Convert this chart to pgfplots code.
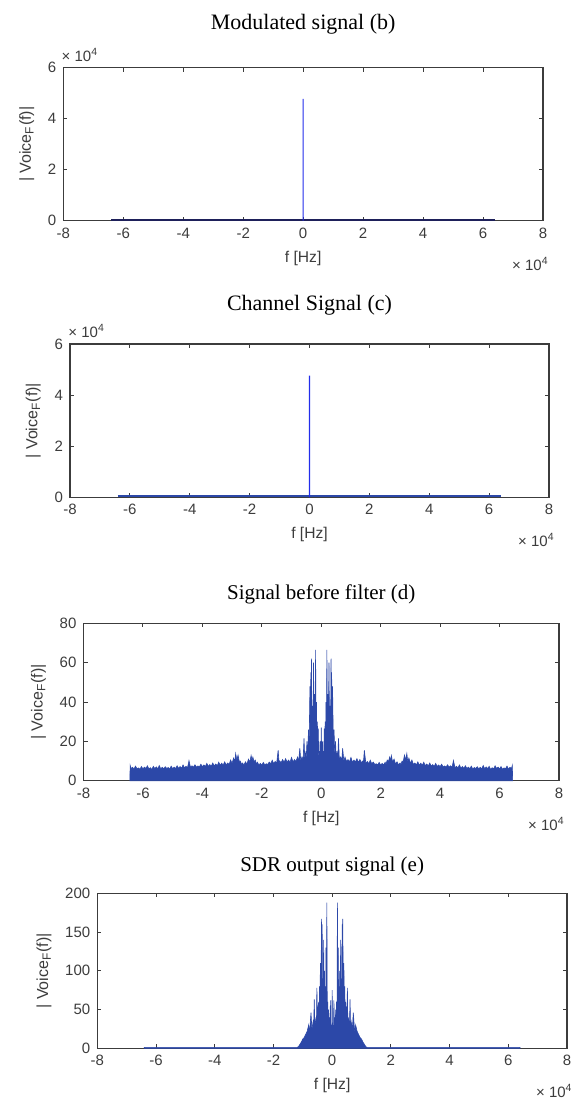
\documentclass[border=0pt]{standalone}
\usepackage{pgfplots}
\pgfplotsset{compat=1.18}
\usepackage{fontspec}
\setmainfont{Liberation Sans}
\newfontfamily\titlefont{Liberation Serif}

\definecolor{spec}{RGB}{44,72,168}
\definecolor{spike}{RGB}{35,45,235}
\definecolor{navy}{RGB}{30,32,90}
\definecolor{axgray}{RGB}{60,60,60}

% MATLAB-like look shared by the four panels
\pgfplotsset{
  matlab/.style={
    scale only axis, anchor=south west, clip=false,
    xmin=-80000, xmax=80000, scaled ticks=false,
    xtick={-80000,-60000,...,80000},
    xticklabels={-8,-6,-4,-2,0,2,4,6,8},
    tick align=inside, xtick pos=both, ytick pos=both,
    major tick length=2pt,
    axis line style={axgray, line width=0.6pt},
    every tick/.style={axgray, line width=0.5pt},
    tick label style={font=\fontsize{7.5}{8}\selectfont, text=axgray},
    /pgf/number format/assume math mode=true,
    xlabel={f [Hz]},
    ylabel={| Voice\textsubscript{F}(f)|},
    every axis x label/.style={at={(0.5,0)}, anchor=north, yshift=-11.5pt,
      font=\fontsize{7.8}{9}\selectfont, text=axgray},
    every axis y label/.style={at={(ticklabel cs:0.5)}, rotate=90,
      anchor=near ticklabel, font=\fontsize{8}{9}\selectfont, text=axgray},
    every axis title/.style={at={(0.5,1)}, anchor=base,
      font=\titlefont\fontsize{11}{13}\selectfont},
  },
}
\tikzset{
  xmult/.style={anchor=north east, inner sep=0pt, text=axgray,
    font=\fontsize{7.5}{8}\selectfont},
  ymult/.style={anchor=south west, inner sep=0pt, text=axgray,
    font=\fontsize{7.5}{8}\selectfont},
}

\begin{document}
\begin{tikzpicture}
\useasboundingbox (0,0) rectangle (285.5pt,-550.5pt);

% (b) modulated signal
\begin{axis}[matlab, at={(31.65pt,-110.35pt)}, width=239.85pt, height=76.5pt,
  ymin=0, ymax=60000, ytick={0,20000,40000,60000}, yticklabels={0,2,4,6},
  title={Modulated signal (b)}, title style={yshift=18.9pt}]
\addplot[draw=navy, line width=0.8pt] coordinates {(-64000,250) (64000,250)};
\addplot[fill=spike, draw=none] coordinates
  {(-170,0) (-170,47800) (170,47800) (170,0)} \closedcycle;
\node[ymult] at (rel axis cs:0,1) [xshift=-1pt, yshift=3pt] {× 10\textsuperscript{4}};
\node[xmult] at (rel axis cs:1,0) [xshift=3pt, yshift=-18pt] {× 10\textsuperscript{4}};
\end{axis}

% (c) channel signal
\begin{axis}[matlab, at={(35pt,-248.65pt)}, width=239.5pt, height=76.65pt,
  ymin=0, ymax=60000, ytick={0,20000,40000,60000}, yticklabels={0,2,4,6},
  title={Channel Signal (c)}, title style={yshift=17pt}]
\addplot[draw=spec, line width=0.8pt] coordinates {(-64000,500) (64000,500)};
\addplot[fill=spike, draw=none] coordinates
  {(-170,0) (-170,47600) (170,47600) (170,0)} \closedcycle;
\node[ymult] at (rel axis cs:0,1) [xshift=-1pt, yshift=3pt] {× 10\textsuperscript{4}};
\node[xmult] at (rel axis cs:1,0) [xshift=3pt, yshift=-18pt] {× 10\textsuperscript{4}};
\end{axis}

% (d) signal before filter
\begin{axis}[matlab, at={(41.75pt,-390.35pt)}, width=237.75pt, height=78.7pt,
  ymin=0, ymax=80, ytick={0,20,40,60,80},
  title={Signal before filter (d)}, title style={yshift=12pt,
    font=\titlefont\fontsize{10.5}{12}\selectfont}]
\addplot[draw=spec, fill=spec, line width=0.3pt] coordinates {
(-64400,0) (-64300,7.8) (-64000,6.2) (-63500,6.8) (-63000,5.9) (-62500,7.4) (-62000,6.1)
(-61500,6.5) (-61000,5.8) (-60500,7.2) (-60000,6.0) (-59500,6.9) (-59000,6.2)
(-58500,7.6) (-58000,6.0) (-57500,6.6) (-57000,5.7) (-56500,7.3) (-56000,6.2)
(-55500,7.0) (-55000,6.1) (-54500,7.7) (-54000,6.0) (-53500,6.8) (-53000,6.0)
(-52500,7.1) (-52000,6.2) (-51500,6.7) (-51000,5.9) (-50500,7.4) (-50000,6.1)
(-49500,6.9) (-49000,6.2) (-48500,7.6) (-48000,6.3) (-47500,7.2) (-47000,6.4)
(-46500,8.0) (-46000,6.5) (-45500,7.3) (-45000,6.6) (-44500,10.2) (-44000,6.8)
(-43500,7.6) (-43000,6.9) (-42500,8.1) (-42000,6.9) (-41500,7.5) (-41000,7.0)
(-40500,8.4) (-40000,7.1) (-39500,8.0) (-39000,7.2) (-38500,8.8) (-38000,7.3)
(-37500,8.2) (-37000,7.4) (-36500,9.0) (-36000,7.5) (-35500,8.5) (-35000,7.6)
(-34500,9.4) (-34000,7.8) (-33500,8.9) (-33000,7.9) (-32500,9.6) (-32000,8.0)
(-31500,9.0) (-31000,8.2) (-30500,10.5) (-30000,8.8) (-29500,11.5) (-29100,9.6)
(-28800,13.8) (-28400,10.5) (-28000,13.0) (-27600,9.8) (-27200,10.0) (-26800,8.2)
(-26500,9.0) (-26000,8.0) (-25500,9.6) (-25000,8.4) (-24500,11.0) (-24000,9.5)
(-23600,12.8) (-23300,10.2) (-23000,12.0) (-22600,9.6) (-22200,10.5) (-21800,8.4)
(-21500,9.4) (-21000,8.0) (-20500,8.8) (-20000,7.9) (-19500,9.3) (-19000,8.1)
(-18500,8.6) (-18000,8.3) (-17500,9.5) (-17000,8.6) (-16500,10.4) (-16000,8.7)
(-15500,9.8) (-15000,8.9) (-14500,15.5) (-14200,9.0) (-14000,10.0) (-13500,9.2)
(-13000,10.8) (-12500,9.3) (-12000,11.2) (-11500,9.5) (-11000,10.5) (-10500,9.4)
(-10000,11.8) (-9500,9.6) (-9000,10.7) (-8500,9.8) (-8000,12.0) (-7600,10.0)
(-7200,16.5) (-6900,10.2) (-6500,12.0) (-6100,10.5) (-5800,21.5) (-5550,11.0)
(-5300,14.0) (-5050,11.5) (-4800,20.0) (-4550,12.5)
(-4300,26.0) (-4100,16) (-3800,48) (-3650,24) (-3500,55) (-3400,28) (-3300,62)
(-3150,26) (-3000,38) (-2800,22) (-2600,60) (-2400,28) (-2200,44) (-2050,24)
(-1900,66.5) (-1750,22) (-1600,40) (-1450,18) (-1300,30) (-1150,14) (-1000,26.5)
(-850,10) (-700,15) (-550,8) (-400,20) (-250,7) (-150,12) (0,27)
(150,12) (250,7) (400,20) (550,8) (700,15) (850,10) (1000,26.5) (1150,14)
(1300,30) (1450,18) (1600,40) (1750,22) (1900,66.5) (2050,24) (2200,44) (2400,28)
(2600,60) (2800,22) (3000,38) (3150,26) (3300,62) (3400,28) (3500,55) (3650,24)
(3800,48) (4100,16) (4300,26.0)
(4550,12.5) (4800,20.0) (5050,11.5) (5300,14.0) (5550,11.0) (5800,21.5)
(6100,10.5) (6500,12.0) (6900,10.2) (7200,16.5) (7600,10.0) (8000,12.0)
(8500,9.8) (9000,10.7) (9500,9.6) (10000,11.8) (10500,9.4) (11000,10.5)
(11500,9.5) (12000,11.2) (12500,9.3) (13000,10.8) (13500,9.2) (14000,10.0)
(14200,9.0) (14500,15.5) (15000,8.9) (15500,9.8) (16000,8.7) (16500,10.4)
(17000,8.6) (17500,9.5) (18000,8.3) (18500,8.6) (19000,8.1) (19500,9.3)
(20000,7.9) (20500,8.8) (21000,8.0) (21500,9.4) (21800,8.4) (22200,10.5)
(22600,9.6) (23000,12.0) (23300,10.2) (23600,12.8) (24000,9.5) (24500,11.0)
(25000,8.4) (25500,9.6) (26000,8.0) (26500,9.0) (26800,8.2) (27200,10.0)
(27600,9.8) (28000,13.0) (28400,10.5) (28800,13.8) (29100,9.6) (29500,11.5)
(30000,8.8) (30500,10.5) (31000,8.2) (31500,9.0) (32000,8.0) (32500,9.6)
(33000,7.9) (33500,8.9) (34000,7.8) (34500,9.4) (35000,7.6) (35500,8.5)
(36000,7.5) (36500,9.0) (37000,7.4) (37500,8.2) (38000,7.3) (38500,8.8)
(39000,7.2) (39500,8.0) (40000,7.1) (40500,8.4) (41000,7.0) (41500,7.5)
(42000,6.9) (42500,8.1) (43000,6.9) (43500,7.6) (44000,6.8) (44500,10.2)
(45000,6.6) (45500,7.3) (46000,6.5) (46500,8.0) (47000,6.4) (47500,7.2)
(48000,6.3) (48500,7.6) (49000,6.2) (49500,6.9) (50000,6.1) (50500,7.4)
(51000,5.9) (51500,6.7) (52000,6.2) (52500,7.1) (53000,6.0) (53500,6.8)
(54000,6.0) (54500,7.7) (55000,6.1) (55500,7.0) (56000,6.2) (56500,7.3)
(57000,5.7) (57500,6.6) (58000,6.0) (58500,7.6) (59000,6.2) (59500,6.9)
(60000,6.0) (60500,7.2) (61000,5.8) (61500,6.5) (62000,6.1) (62500,7.4)
(63000,5.9) (63500,6.8) (64000,6.2) (64300,7.8) (64400,0)
} \closedcycle;
\node[xmult] at (rel axis cs:1,0) [xshift=3pt, yshift=-18pt] {× 10\textsuperscript{4}};
\end{axis}

% (e) SDR output signal
\begin{axis}[matlab, at={(48.65pt,-524.15pt)}, width=234.85pt, height=77.5pt,
  ymin=0, ymax=200, ytick={0,50,100,150,200},
  title={SDR output signal (e)}, title style={yshift=11pt,
    font=\titlefont\fontsize{10.5}{12}\selectfont}]
\addplot[draw=spec, fill=spec, line width=0.3pt] coordinates {
(-64000,0) (-64000,1.2) (-12000,1.2) (-11500,2) (-11000,5) (-10500,8) (-10000,12)
(-9500,14) (-9000,18) (-8500,22) (-8000,30) (-7700,20) (-7200,46) (-6900,24)
(-6500,34) (-6300,22) (-6100,63) (-5900,28) (-5500,40) (-5350,30) (-5200,78)
(-5000,38) (-4600,60) (-4450,40) (-4300,80) (-4150,45) (-4000,110) (-3850,60)
(-3600,167) (-3500,70) (-3400,160) (-3300,60) (-3200,90) (-3050,50) (-2900,140)
(-2750,55) (-2600,100) (-2450,45) (-2300,80) (-2200,45) (-2100,130) (-1950,50)
(-1800,188) (-1650,40) (-1500,60) (-1350,30) (-1200,50) (-1050,25) (-900,40)
(-750,20) (-600,62) (-450,20) (-300,30) (-150,15) (0,75)
(150,15) (300,30) (450,20) (600,62) (750,20) (900,40) (1050,25) (1200,50)
(1350,30) (1500,60) (1650,40) (1800,188) (1950,50) (2100,130) (2200,45)
(2300,80) (2450,45) (2600,100) (2750,55) (2900,140) (3050,50) (3200,90)
(3300,60) (3400,160) (3500,70) (3600,167) (3850,60) (4000,110) (4150,45)
(4300,80) (4450,40) (4600,60) (5000,38) (5200,78) (5350,30) (5500,40)
(5900,28) (6100,63) (6300,22) (6500,34) (6900,24) (7200,46) (7700,20)
(8000,30) (8500,22) (9000,18) (9500,14) (10000,12) (10500,8) (11000,5)
(11500,2) (12000,1.2) (64000,1.2) (64000,0)
} \closedcycle;
\node[xmult] at (rel axis cs:1,0) [xshift=3pt, yshift=-18pt] {× 10\textsuperscript{4}};
\end{axis}
\end{tikzpicture}
\end{document}
